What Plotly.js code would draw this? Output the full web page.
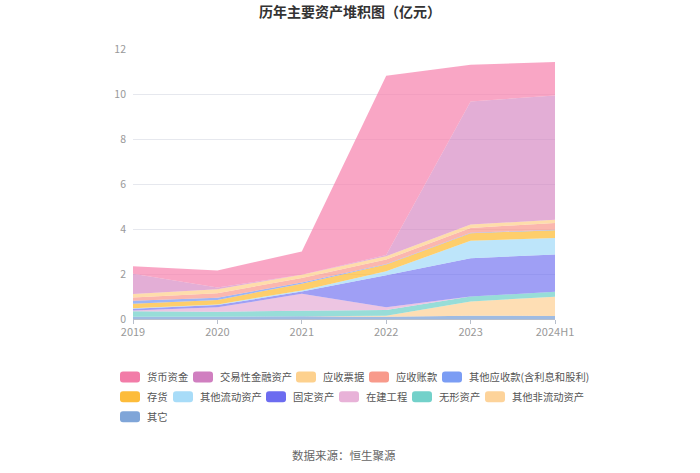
<!DOCTYPE html>
<html>
<head>
<meta charset="utf-8">
<script src="https://cdn.plot.ly/plotly-3.0.1.min.js"></script>
<style>html,body{margin:0;padding:0;background:#fff;}#chart{width:700px;height:473px;}</style>
</head>
<body>
<div id="chart"></div>
<script>
const categories = ["2019", "2020", "2021", "2022", "2023", "2024H1"];

const seriesNames = ["货币资金", "交易性金融资产", "应收票据", "应收账款", "其他应收款(含利息和股利)", "存货", "其他流动资产", "固定资产", "在建工程", "无形资产", "其他非流动资产", "其它"];

const 货币资金 = [0.34, 0.76, 1.03, 7.97, 1.63, 1.49];
const 交易性金融资产 = [0.90, 0.08, 0.00, 0.05, 5.47, 5.52];
const 应收票据 = [0.15, 0.17, 0.15, 0.15, 0.15, 0.14];
const 应收账款 = [0.15, 0.20, 0.20, 0.20, 0.22, 0.30];
const 其他应收款 = [0.13, 0.10, 0.05, 0.02, 0.02, 0.02];
const 存货 = [0.20, 0.20, 0.30, 0.30, 0.33, 0.35];
const 其他流动资产 = [0.02, 0.03, 0.05, 0.18, 0.78, 0.73];
const 固定资产 = [0.08, 0.10, 0.10, 1.42, 1.70, 1.66];
const 在建工程 = [0.03, 0.20, 0.75, 0.12, 0.00, 0.00];
const 无形资产 = [0.25, 0.22, 0.25, 0.25, 0.22, 0.22];
const 其他非流动资产 = [0.00, 0.00, 0.00, 0.05, 0.63, 0.86];
const 其它 = [0.10, 0.10, 0.12, 0.10, 0.15, 0.13];

const seriesValues = [货币资金, 交易性金融资产, 应收票据, 应收账款, 其他应收款, 存货, 其他流动资产, 固定资产, 在建工程, 无形资产, 其他非流动资产, 其它];
const seriesColors = [
  "rgba(246,128,172,0.7)", "rgba(212,130,192,0.65)", "rgba(253,210,143,0.75)", "rgba(249,153,140,0.7)",
  "rgba(122,156,244,0.75)", "rgba(253,189,58,0.75)", "rgba(167,220,248,0.75)", "rgba(107,108,240,0.65)",
  "rgba(231,178,216,0.75)", "rgba(116,209,203,0.75)", "rgba(253,211,155,0.75)", "rgba(127,164,216,0.75)"
];
const legendColors = ["#f27ca8", "#d07fc0", "#fdd18e", "#f89a8b", "#7b9df4", "#fdbc3a", "#a8dcf8", "#6c6cf0", "#e8b2d8", "#73d1ca", "#fdd39a", "#7fa5d8"];

const traces = [];
for (let i = seriesNames.length - 1; i >= 0; i--) {
  traces.push({
    type: "scatter",
    x: categories,
    y: seriesValues[i],
    name: seriesNames[i],
    stackgroup: "one",
    mode: "none",
    line: {width: 0, shape: "linear"},
    fillcolor: seriesColors[i],
    hoverinfo: "x+y+name",
    showlegend: false
  });
}

// Custom legend (flow layout like the original)
const W = 700, H = 473;
const M = {l: 133, r: 145, t: 49, b: 153.5};
const pw = W - M.l - M.r, ph = H - M.t - M.b;
const px2x = p => (p - M.l) / pw;
const px2y = p => (H - M.b - p) / ph;

const legendRows = [[0, 1, 2, 3, 4], [5, 6, 7, 8, 9, 10], [11]];
const rowY = [377.5, 397.5, 417.5];
const legendFontSize = 10.3;
const charW = 10;
const shapes = [];
const annotations = [];
const swPath = "M -7,-5.5 H 7 Q 10,-5.5 10,-2.5 V 2.5 Q 10,5.5 7,5.5 H -7 Q -10,5.5 -10,2.5 V -2.5 Q -10,-5.5 -7,-5.5 Z";
function textWidth(s) {
  let w = 0;
  for (const ch of s) w += (ch === "(" || ch === ")") ? 0.36 : 1;
  return w * charW;
}
legendRows.forEach((row, r) => {
  let x = 120;
  row.forEach(i => {
    shapes.push({
      type: "path", xref: "paper", yref: "paper",
      xsizemode: "pixel", ysizemode: "pixel",
      xanchor: px2x(x + 10), yanchor: px2y(rowY[r]),
      path: swPath, fillcolor: legendColors[i], line: {width: 0}
    });
    annotations.push({
      text: seriesNames[i], xref: "paper", yref: "paper",
      x: px2x(x + 25), xanchor: "left", y: px2y(rowY[r]), yanchor: "middle",
      showarrow: false, font: {size: legendFontSize, color: "#555"}
    });
    x += 25 + textWidth(seriesNames[i]) + 8;
  });
});

annotations.push({
  text: "数据来源：恒生聚源",
  xref: "paper", yref: "paper",
  x: 0.5, xanchor: "center",
  y: px2y(456), yanchor: "middle",
  showarrow: false,
  font: {size: 11.5, color: "#666"}
});

const layout = {
  width: W,
  height: H,
  margin: M,
  paper_bgcolor: "#fff",
  plot_bgcolor: "#fff",
  font: {family: "Noto Sans CJK SC, sans-serif", size: 11, color: "#666"},
  title: {
    text: "<b>历年主要资产堆积图（亿元）</b>",
    x: 0.5, xanchor: "center", y: 0.975, yanchor: "middle",
    font: {size: 14, color: "#333", family: "Noto Sans CJK SC, sans-serif"}
  },
  xaxis: {
    type: "category",
    range: [0, 5],
    showgrid: false,
    showline: true,
    linecolor: "#b8bfcc",
    linewidth: 1,
    ticks: "outside",
    ticklen: 4,
    tickcolor: "#b8bfcc",
    tickfont: {size: 11, color: "#999"},
    ticklabelstandoff: -1,
    zeroline: false,
    fixedrange: true
  },
  yaxis: {
    range: [0, 12],
    dtick: 2,
    showgrid: true,
    gridcolor: "#e6e8ee",
    gridwidth: 1,
    zeroline: false,
    showline: false,
    ticks: "",
    tickfont: {size: 10.5, color: "#999"},
    ticklabelstandoff: 6,
    fixedrange: true
  },
  showlegend: false,
  shapes: shapes,
  annotations: annotations
};

Plotly.newPlot("chart", traces, layout, {displayModeBar: false, staticPlot: true});
</script>
</body>
</html>
